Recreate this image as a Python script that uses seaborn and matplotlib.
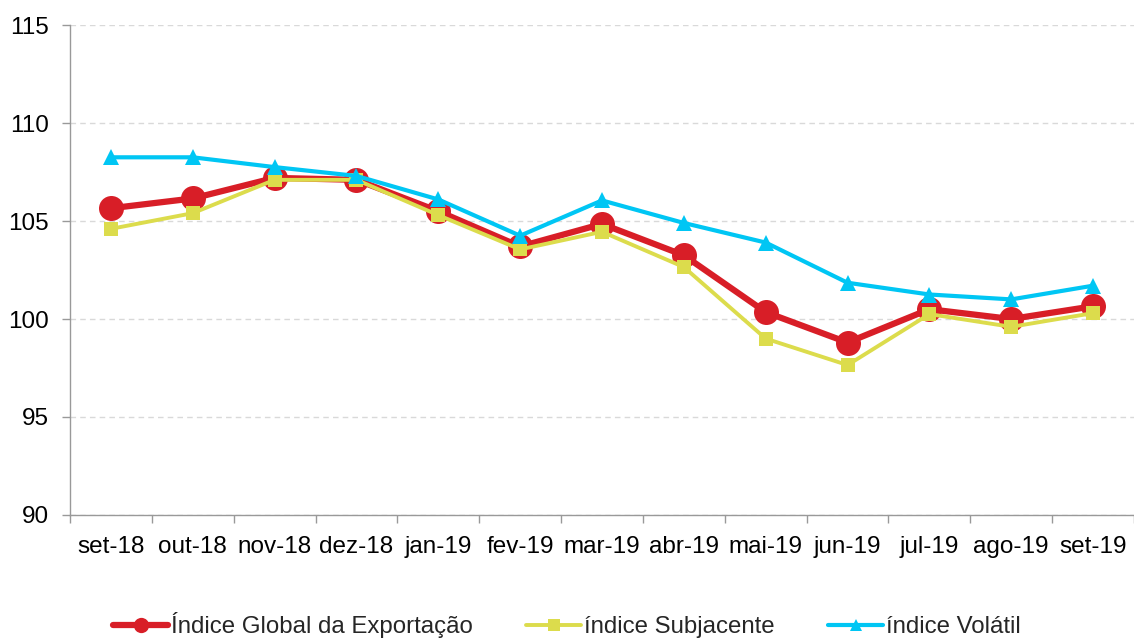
import numpy as np
import pandas as pd
import matplotlib
matplotlib.use("Agg")
import matplotlib.pyplot as plt
import seaborn as sns

# dados
meses = ['set-18', 'out-18', 'nov-18', 'dez-18', 'jan-19', 'fev-19', 'mar-19',
         'abr-19', 'mai-19', 'jun-19', 'jul-19', 'ago-19', 'set-19']
global_exp = [105.65, 106.15, 107.2, 107.1, 105.5, 103.7, 104.85,
              103.25, 100.35, 98.8, 100.5, 100.0, 100.65]
subjacente = [104.6, 105.4, 107.1, 107.1, 105.3, 103.55, 104.45,
              102.65, 99.0, 97.65, 100.25, 99.6, 100.3]
volatil = [108.25, 108.25, 107.75, 107.3, 106.1, 104.25, 106.05,
           104.9, 103.9, 101.85, 101.25, 101.0, 101.7]

series = ['Índice Global da Exportação', 'índice Subjacente', 'índice Volátil']
cores = {series[0]: '#D81E27', series[1]: '#DCDC4C', series[2]: '#00C6F4'}

df = pd.DataFrame({
    'pos': list(np.arange(len(meses))) * 3,
    'valor': global_exp + subjacente + volatil,
    'serie': [series[0]] * len(meses) + [series[1]] * len(meses) + [series[2]] * len(meses),
})

sns.set_theme(style="white")
plt.rcParams['font.family'] = ['Liberation Sans', 'DejaVu Sans']

fig = plt.figure(figsize=(11.34, 6.38), dpi=100)
ax = fig.add_axes([0.0617, 0.1928, 0.9383, 0.768])

estilos = {
    series[0]: dict(marker='o', markersize=18, linewidth=4.5),
    series[1]: dict(marker='s', markersize=10, linewidth=2.8),
    series[2]: dict(marker='^', markersize=11, linewidth=3.0),
}
for s in series:
    sub = df[df['serie'] == s]
    sns.lineplot(data=sub, x='pos', y='valor', color=cores[s], ax=ax,
                 markeredgewidth=0, label=s, **estilos[s])

ax.set_xlim(-0.5, len(meses) - 0.5)
ax.set_ylim(90, 115)
ax.set_yticks(np.arange(90, 116, 5))
ax.set_xticks(np.arange(len(meses)))
ax.set_xticklabels(meses)
ax.set_xticks(np.arange(len(meses) + 1) - 0.5, minor=True)
ax.tick_params(axis='x', which='major', length=0, pad=15, labelsize=17.5, colors='black')
ax.tick_params(axis='x', which='minor', length=6, color='#999999', width=1, bottom=True)
ax.tick_params(axis='y', length=6, color='#999999', width=1, labelsize=17.5, pad=9,
               left=True, labelcolor='black')
ax.yaxis.grid(True, linestyle=(0, (4, 3)), color='#d9d9d9', linewidth=1)
ax.set_axisbelow(True)
for sp in ['top', 'right']:
    ax.spines[sp].set_visible(False)
for sp in ['left', 'bottom']:
    ax.spines[sp].set_color('#999999')
    ax.spines[sp].set_linewidth(1)
ax.set_xlabel('')
ax.set_ylabel('')

leg = ax.legend(loc='center', bbox_to_anchor=(0.5, 0.02), bbox_transform=fig.transFigure,
                ncol=3, frameon=False, fontsize=17.3, handlelength=2.3, handletextpad=0.13,
                columnspacing=2.2, borderaxespad=0)
for h, ms in zip(leg.legend_handles, [11, 9, 9]):
    h.set_markersize(ms)

fig.savefig('out.png', dpi=100)
